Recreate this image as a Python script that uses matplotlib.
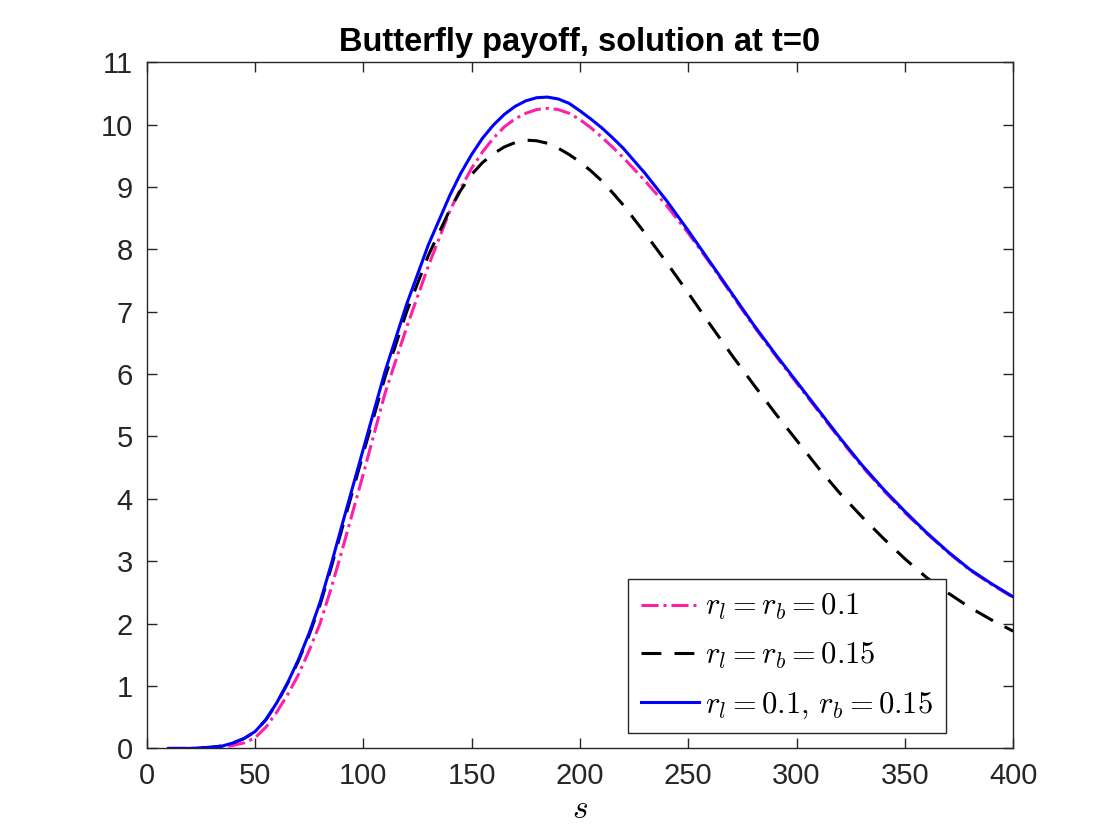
import matplotlib
matplotlib.use('Agg')
import matplotlib.pyplot as plt

# values (finer steps where the curves bend)
s = [10, 20, 30, 35, 40, 45, 50, 55, 60, 65, 70, 75, 80, 85, 90, 100, 110, 120, 130, 140,
     145, 150, 155, 160, 165, 170, 175, 180, 185, 190, 195, 200, 205, 210, 215, 220,
     230, 240, 250, 260, 270, 280, 290, 300, 310, 320, 330, 340, 350, 360,
     370, 380, 390, 400]

v_same_01 = [0.0, 0.0, 0.01, 0.02, 0.05, 0.09, 0.17, 0.34, 0.58, 0.86, 1.18, 1.57, 2.0, 2.55,
             3.15, 4.4, 5.69, 6.75, 7.73, 8.62,
             8.98, 9.30, 9.56, 9.78, 9.96, 10.09, 10.18, 10.24, 10.26, 10.24, 10.18, 10.08,
             9.95, 9.80, 9.64, 9.47,
             9.10, 8.70, 8.26, 7.78, 7.28, 6.78, 6.31, 5.86, 5.41, 4.96, 4.53, 4.14, 3.78,
             3.45, 3.14, 2.86, 2.63, 2.42]

v_same_015 = [0.0, 0.0, 0.02, 0.04, 0.09, 0.16, 0.27, 0.46, 0.72, 1.04, 1.40, 1.82, 2.30, 2.88,
              3.50, 4.73, 5.95, 7.0, 7.9, 8.64,
              8.95, 9.20, 9.39, 9.53, 9.64, 9.71, 9.75, 9.74, 9.70, 9.62, 9.52, 9.40,
              9.26, 9.10, 8.91, 8.71,
              8.26, 7.79, 7.30, 6.80, 6.31, 5.84, 5.38, 4.94, 4.50, 4.09, 3.72, 3.37, 3.04,
              2.74, 2.49, 2.26, 2.06, 1.88]

v_mixed = [0.0, 0.0, 0.02, 0.04, 0.09, 0.16, 0.27, 0.46, 0.73, 1.05, 1.42, 1.85, 2.34, 2.93,
           3.56, 4.80, 6.04, 7.12, 8.07, 8.87,
           9.22, 9.52, 9.78, 9.99, 10.16, 10.29, 10.38, 10.43, 10.44, 10.41, 10.34, 10.22,
           10.09, 9.95, 9.79, 9.62,
           9.22, 8.78, 8.30, 7.80, 7.30, 6.80, 6.33, 5.88, 5.43, 4.98, 4.55, 4.16, 3.80,
           3.46, 3.15, 2.87, 2.64, 2.43]

labels = [r'$r_l = r_b = 0.1$', r'$r_l = r_b = 0.15$', r'$r_l = 0.1,\, r_b = 0.15$']

plt.rcParams['font.family'] = ['Liberation Sans', 'DejaVu Sans']
plt.rcParams['mathtext.fontset'] = 'cm'

fig = plt.figure(figsize=(11.2, 8.4), dpi=100)
ax = fig.add_axes([0.131, 0.109, 0.7736, 0.817])

ax.plot(s, v_same_01, color='#ff1fa8', lw=2.2, dashes=(5.6, 1.6, 1.0, 1.6), label=labels[0])
ax.plot(s, v_same_015, color='black', lw=2.2, dashes=(6.5, 4.3), label=labels[1])
ax.plot(s, v_mixed, color='#0000ff', lw=2.2, label=labels[2])

ax.set_xlim(0, 400)
ax.set_ylim(0, 11)
ax.set_xticks(range(0, 401, 50))
ax.set_yticks(range(0, 12))

dark = '#262626'
for sp in ax.spines.values():
    sp.set_color(dark)
    sp.set_linewidth(1.0)
ax.tick_params(direction='in', length=7, width=1.0, colors=dark,
               labelsize=21, top=True, right=True, pad=10)

ax.set_title('Butterfly payoff, solution at t=0', fontsize=23.5, fontweight='bold', pad=8)
ax.set_xlabel(r'$s$', fontsize=24, labelpad=3)

leg = ax.legend(loc='lower right', bbox_to_anchor=(0.922, 0.022), fontsize=22,
                fancybox=False, framealpha=1, edgecolor=dark, handlelength=1.9,
                labelspacing=0.6, borderpad=0.42, handletextpad=0.2,
                borderaxespad=0)
leg.get_frame().set_linewidth(1.0)

fig.savefig('out.png', dpi=100)
